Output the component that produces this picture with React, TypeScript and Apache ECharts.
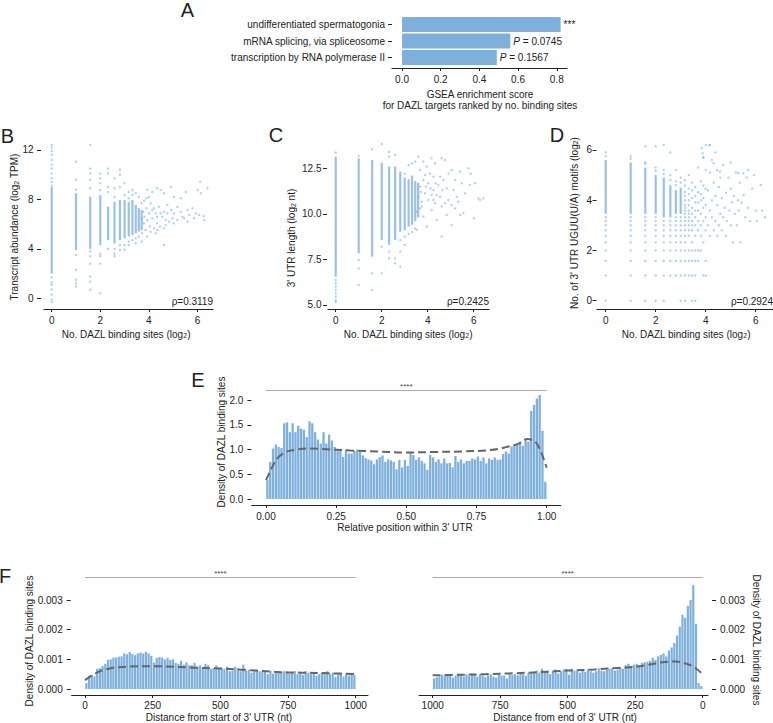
import React, { useEffect, useRef } from "react";
import * as echarts from "echarts";

const FONT = "'Liberation Sans', Arial, Helvetica, sans-serif";
const BAR = "#7eb0dc";
const DOT = "rgba(125,176,224,0.75)";
const DENSE = "rgba(125,176,224,0.78)";
const INK = "#222";

// ---------- Panel A ----------
const A_TERMS = ["undifferentiated spermatogonia", "mRNA splicing, via spliceosome", "transcription by RNA polymerase II"];
const A_SCORES = [0.82, 0.56, 0.49];
const A_NOTES = ["***", "P = 0.0745", "P = 0.1567"];
const A_TICKS = [0, 0.2, 0.4, 0.6, 0.8];

// ---------- Scatter panels (B, C, D) ----------
const SC_XTICKS = [0, 2, 4, 6];
const B_YTICKS = [0, 4, 8, 12];
const C_YTICKS = [5, 7.5, 10, 12.5];
const D_YTICKS = [0, 2, 4, 6];
const RHO = ["0.3119", "0.2425", "0.2924"];

// dense runs of points: [x, low, high]
const B_DENSE = [[0, 2.0, 9.0], [1, 3.9, 8.5], [1.585, 4.0, 8.2], [2, 4.3, 8.35], [2.322, 4.7, 7.4], [2.585, 4.45, 7.8], [2.807, 4.7, 7.95], [3, 4.85, 7.95], [3.17, 5.0, 7.8], [3.322, 5.1, 7.95], [3.459, 5.25, 7.55], [3.585, 5.4, 7.3], [3.7, 5.5, 7.15]];
const B_COLS: [number, number[]][] = [
  [0, [12.4, 12.2, 11.9, 11.6, 11.2, 10.8, 10.5, 10.1, 9.7, 9.4, 9.1, 1.7, 1.3, 1.1, 0.7, 0.3, -0.1, -0.3]],
  [1, [11.05, 9.6, 8.8, 3.5, 2.3, 1.5, 1.2, 0.95]],
  [1.585, [12.4, 10.5, 10.1, 9.6, 8.9, 3.8, 3.4, 2.8, 1.75, 1.35, 0.7]],
  [2, [10.1, 9.7, 9.3, 8.75, 3.6, 3.4, 2.8, 0.4]],
  [2.322, [10.5, 10.1, 9.0, 8.6, 4.0]],
  [2.585, [9.7, 8.9, 8.2, 4.0, 3.6, 3.4]],
  [2.807, [10.4, 10.0, 9.0, 4.3, 3.9]],
  [3, [9.3, 8.35, 4.3, 3.95]],
  [3.17, [8.6, 8.1, 4.6, 4.3]],
  [3.322, [8.76, 8.35, 4.7]],
  [3.459, [8.5, 4.85, 4.45]],
  [3.585, [8.2, 5.0]],
  [3.7, [7.7, 4.6]],
];
const B_CLOUD = [[3.93, 8.76], [4.0, 8.2], [4.14, 8.6], [4.34, 8.9], [4.48, 8.76], [4.62, 8.5], [4.9, 9.0], [5.03, 8.2], [5.31, 8.1], [5.52, 8.6], [6.0, 8.76], [6.11, 9.43], [6.14, 8.5], [6.41, 8.9], [6.25, 6.65], [5.93, 6.87], [5.79, 7.28], [5.59, 7.14], [5.45, 6.47], [5.31, 7.0], [5.17, 7.4], [5.03, 6.87], [4.92, 7.14], [4.76, 7.55], [4.69, 6.33], [4.62, 7.0], [4.55, 6.6], [4.41, 7.41], [4.34, 6.06], [4.28, 6.87], [4.21, 7.28], [4.14, 6.47], [4.07, 7.68], [4.04, 5.8], [4.0, 6.87], [3.93, 6.33], [3.9, 7.28], [3.86, 5.53], [3.82, 6.6], [3.79, 6.06], [3.77, 7.0], [3.72, 5.26], [3.72, 6.47], [4.07, 5.39], [4.21, 5.66], [4.34, 5.53], [4.46, 5.8], [4.62, 5.66], [4.69, 5.93], [4.83, 6.2], [4.28, 5.26], [4.62, 4.3], [3.93, 5.0], [4.14, 7.14], [4.34, 6.6], [4.48, 6.87], [4.76, 6.87], [4.97, 6.47], [5.17, 6.33], [5.38, 6.6], [5.66, 6.74], [5.86, 6.47], [6.28, 6.33], [6.07, 6.74], [5.59, 6.2], [5.03, 6.06], [3.81, 7.9], [3.9, 8.1]];

const C_DENSE = [[0, 6.55, 13.14], [1, 7.84, 13.05], [1.585, 7.65, 12.96], [2, 8.57, 12.8], [2.322, 8.3, 12.6], [2.585, 8.57, 12.6], [2.807, 9.02, 12.32], [3, 9.1, 12.0], [3.17, 9.3, 11.9], [3.322, 9.4, 12.1], [3.459, 9.6, 11.8], [3.585, 9.8, 11.7]];
const C_COLS: [number, number[]][] = [
  [0, [13.36, 6.37, 6.19, 6.0, 5.82, 5.64, 5.46, 5.27, 5.18]],
  [1, [13.18, 7.47, 7.0, 6.1]],
  [1.585, [13.54, 6.74, 5.82]],
  [2, [13.83, 8.2, 6.74]],
  [2.322, [13.4, 13.14, 7.93, 7.56]],
  [2.585, [13.23, 7.56, 7.29]],
  [2.807, [8.57, 7.93, 7.1]],
  [3, [12.2, 8.75, 8.3]],
  [3.17, [12.68, 8.9]],
  [3.322, [12.78, 9.0]],
  [3.459, [12.87, 9.2]],
];
const C_CLOUD = [[3.59, 13.14], [3.81, 12.87], [3.96, 12.6], [4.17, 13.05], [4.32, 12.78], [4.61, 13.05], [4.75, 12.96], [5.04, 12.4], [5.41, 12.32], [5.77, 12.5], [5.87, 12.2], [3.81, 11.86], [3.67, 11.5], [4.03, 11.68], [4.25, 11.31], [4.46, 11.58], [4.54, 10.94], [4.68, 11.86], [4.83, 11.4], [4.9, 10.76], [5.12, 11.31], [5.26, 10.94], [5.48, 11.68], [5.62, 11.13], [5.84, 11.58], [6.06, 11.68], [6.2, 10.85], [6.42, 10.85], [6.28, 10.76], [6.01, 9.76], [5.04, 9.39], [5.41, 9.94], [5.55, 10.03], [4.61, 8.75], [4.83, 9.94], [4.39, 9.66], [4.17, 10.21], [3.96, 9.3], [3.81, 9.85], [3.67, 10.3], [3.52, 10.12], [3.52, 9.12], [3.59, 10.94], [3.74, 10.67], [3.88, 11.13], [4.03, 10.76], [4.17, 11.04], [4.32, 10.58], [4.39, 11.04], [4.61, 10.4], [4.75, 10.58], [5.04, 10.49], [5.19, 10.3], [5.33, 10.67], [4.25, 12.04], [4.54, 12.04], [4.1, 12.22], [4.9, 12.22], [5.19, 11.86], [3.67, 12.41], [3.88, 12.13], [3.93, 11.5], [4.12, 11.4], [4.35, 11.68], [4.64, 11.31], [4.25, 10.76], [3.7, 11.2], [3.75, 10.4]];

const D_DENSE = [[0, 3.459, 5.6], [1, 3.459, 5.5], [1.585, 3.459, 5.3], [2, 3.459, 5.0], [2.322, 3.322, 4.9], [2.585, 3.322, 4.6], [2.807, 3.459, 4.4], [3, 3.459, 4.5]];
const D_COLS: [number, number[]][] = [
  [0, [0, 1, 1.585, 2, 2.322, 2.585, 2.807, 3, 3.17, 3.322, 5.75, 5.91]],
  [1, [0, 1, 1.585, 2, 2.322, 2.585, 2.807, 3, 3.17, 3.322, 5.65, 5.75]],
  [1.585, [0, 1, 1.585, 2, 2.322, 2.585, 2.807, 3, 3.17, 3.322, 5.45, 5.51, 6.15]],
  [2, [0, 1, 1.585, 2, 2.322, 2.585, 2.807, 3, 3.17, 3.322, 5.17, 5.3, 6.15]],
  [2.322, [0, 1, 1.585, 2, 2.322, 2.585, 2.807, 3, 3.17, 5.04, 5.2, 6.2]],
  [2.585, [1, 1.585, 2, 2.322, 2.585, 2.807, 3, 3.17, 4.8, 5.0, 5.9]],
  [2.807, [1, 1.585, 2, 2.322, 2.585, 2.807, 3, 3.17, 3.322, 4.6, 4.75, 5.2]],
  [3, [0, 1, 1.585, 2, 2.322, 2.585, 2.807, 3, 3.17, 3.322, 4.7, 4.9]],
  [3.17, [0, 1, 1.585, 2, 2.322, 2.585, 2.807, 3, 3.17, 3.322, 3.459, 3.585, 3.7, 3.807, 4, 4.17, 4.32, 4.58, 4.8]],
  [3.322, [1, 1.585, 2, 2.585, 2.807, 3, 3.17, 3.322, 3.459, 3.585, 3.807, 4, 4.248, 4.46, 5]],
  [3.459, [0, 1, 1.585, 2, 2.322, 2.807, 3, 3.17, 3.459, 3.7, 4.087, 4.39, 4.7]],
  [3.585, [0, 1, 1.585, 2, 2.585, 3, 3.322, 3.585, 3.907, 4.17, 4.52]],
  [3.7, [1.585, 2, 2.807, 3.17, 3.585, 3.907, 4.32, 5.3]],
  [3.807, [2, 2.585, 3, 3.459, 4, 4.248, 4.75]],
  [3.907, [1, 2.322, 3.17, 3.7, 4.087, 4.58, 5.7]],
  [4, [1, 1.585, 2.807, 3.322, 3.807, 4.46, 5.2, 6.2]],
];
const D_CLOUD = [[3.84, 6.07], [3.88, 5.87], [4.15, 6.2], [4.087, 3.0], [4.087, 4.39], [4.17, 2.585], [4.17, 3.585], [4.17, 5.1], [4.248, 3.322], [4.248, 4.0], [4.248, 5.6], [4.322, 2.807], [4.322, 4.7], [4.392, 3.17], [4.392, 4.17], [4.459, 2.585], [4.459, 3.807], [4.459, 5.2], [4.524, 3.0], [4.524, 4.52], [4.585, 3.459], [4.585, 4.9], [4.644, 2.807], [4.644, 4.087], [4.7, 3.322], [4.7, 5.4], [4.755, 3.7], [4.807, 2.585], [4.807, 4.3], [4.858, 3.17], [4.907, 4.9], [4.954, 3.585], [5.0, 3.0], [5.0, 4.46], [5.044, 3.907], [5.087, 2.322], [5.129, 4.17], [5.17, 3.459], [5.21, 5.1], [5.248, 3.0], [5.285, 4.0], [5.32, 3.585], [5.36, 4.7], [5.39, 2.322], [5.43, 3.907], [5.52, 4.2], [5.58, 3.322], [5.64, 4.9], [5.7, 3.7], [5.78, 3.17], [5.86, 4.46], [5.93, 5.0], [6.0, 3.585], [6.04, 3.17], [6.2, 4.6], [6.25, 3.585], [6.37, 3.322], [5.7, 5.2], [5.0, 5.5], [4.39, 5.9], [4.17, 6.2], [3.907, 5.7], [5.31, 5.07], [5.51, 5.07], [4.57, 5.14], [4.31, 5.47]];

// ---------- Panel E ----------
const E_XTICKS = [0, 0.25, 0.5, 0.75, 1];
const E_YTICKS = [0, 0.5, 1, 1.5, 2];
const E_BIN = 0.01;
const E_BARS = [
  0.38, 0.75, 1.02, 1.1, 1.05, 1.03, 1.53, 1.55, 1.35, 1.53,
  1.35, 1.48, 1.42, 1.4, 1.25, 1.57, 1.53, 1.35, 1.2, 1.12,
  1.35, 1.12, 1.3, 1.18, 1.05, 0.98, 1.0, 0.85, 1.0, 0.92,
  0.92, 0.97, 1.0, 0.97, 0.88, 0.83, 0.8, 0.78, 0.7, 0.8,
  0.85, 0.88, 0.75, 0.8, 0.78, 0.75, 0.6, 0.79, 0.64, 0.79,
  0.67, 0.94, 0.89, 0.79, 0.84, 0.77, 0.72, 0.59, 0.89, 0.84,
  0.75, 0.8, 0.72, 0.82, 0.72, 0.73, 0.64, 0.87, 0.75, 0.8,
  0.72, 0.77, 0.77, 0.82, 0.8, 0.86, 0.77, 0.84, 0.72, 0.82,
  0.79, 0.84, 0.79, 0.8, 0.91, 0.96, 0.92, 1.06, 1.09, 1.12,
  1.16, 1.07, 1.19, 1.16, 1.78, 1.9, 2.03, 2.1, 1.38, 0.35,
];
const E_KDE = [[0, 0.38], [0.02, 0.62], [0.04, 0.82], [0.07, 0.95], [0.1, 0.99], [0.15, 1.02], [0.2, 1.01], [0.3, 0.98], [0.4, 0.96], [0.5, 0.94], [0.6, 0.95], [0.7, 0.96], [0.8, 0.99], [0.85, 1.04], [0.9, 1.12], [0.93, 1.21], [0.96, 1.15], [0.98, 0.95], [1.0, 0.63]];
const E_SIG = { from: 0, to: 1, y: 2.2, text: "****" };

// ---------- Panel F ----------
const F_XTICKS = [0, 250, 500, 750, 1000];
const F_YTICKS = [0, 0.001, 0.002, 0.003];
const F_BIN = 10;
const FL_BARS = [
  0.0002, 0.00045, 0.00048, 0.00043, 0.00068, 0.0007, 0.00077, 0.00085, 0.00098, 0.001,
  0.00106, 0.00106, 0.00109, 0.0011, 0.0012, 0.00117, 0.00125, 0.00118, 0.00114, 0.0012,
  0.00123, 0.0012, 0.00125, 0.0012, 0.00112, 0.00089, 0.00105, 0.00108, 0.00106, 0.001,
  0.00105, 0.00098, 0.001, 0.00088, 0.00085, 0.00095, 0.00082, 0.0009, 0.0008, 0.0008,
  0.00088, 0.00075, 0.0008, 0.0007, 0.00085, 0.0008, 0.00068, 0.0007, 0.0008, 0.0007,
  0.0007, 0.00068, 0.00075, 0.0006, 0.00062, 0.00075, 0.0007, 0.0006, 0.00082, 0.00062,
  0.00065, 0.00055, 0.0006, 0.00065, 0.0006, 0.00058, 0.0006, 0.0005, 0.00062, 0.00052,
  0.00058, 0.00055, 0.00058, 0.0006, 0.00058, 0.00052, 0.00055, 0.0006, 0.0005, 0.00055,
  0.00048, 0.0006, 0.00055, 0.0005, 0.00055, 0.00045, 0.0005, 0.00055, 0.0005, 0.0006,
  0.0005, 0.00055, 0.0004, 0.0005, 0.00055, 0.00042, 0.0005, 0.00045, 0.0005, 0.00048,
];
// distance from end, bins ordered from 1000 nt down to 0 nt
const FR_BARS = [
  0.00036, 0.0004, 0.00042, 0.00048, 0.00046, 0.00045, 0.0005, 0.00038, 0.00046, 0.00048,
  0.00047, 0.00042, 0.0005, 0.00045, 0.00052, 0.00048, 0.00042, 0.0005, 0.00046, 0.0004,
  0.00046, 0.0005, 0.00042, 0.00038, 0.00048, 0.00046, 0.00045, 0.00035, 0.0005, 0.00048,
  0.0005, 0.00046, 0.00052, 0.0005, 0.00044, 0.00055, 0.00052, 0.00056, 0.00062, 0.00055,
  0.00068, 0.00058, 0.00062, 0.0005, 0.0006, 0.00066, 0.00052, 0.0006, 0.00066, 0.00068,
  0.00048, 0.00068, 0.00062, 0.0006, 0.00055, 0.00065, 0.00058, 0.00066, 0.0006, 0.00055,
  0.0006, 0.0007, 0.00062, 0.0006, 0.00065, 0.00068, 0.0007, 0.00062, 0.00066, 0.00072,
  0.00068, 0.0008, 0.00085, 0.00078, 0.00082, 0.00085, 0.0008, 0.00088, 0.0009, 0.00092,
  0.00095, 0.00105, 0.00098, 0.0011, 0.00115, 0.0012, 0.0011, 0.0013, 0.0014, 0.00155,
  0.0018, 0.0021, 0.0025, 0.0024, 0.0028, 0.003, 0.0035, 0.0022, 0.0002, 0.0001,
];
const FL_KDE = [[0, 0.0003], [50, 0.00058], [100, 0.00071], [150, 0.00075], [200, 0.00077], [250, 0.00077], [300, 0.00076], [400, 0.00072], [500, 0.00069], [600, 0.00064], [700, 0.00058], [750, 0.00056], [800, 0.00055], [900, 0.00053], [1000, 0.0005]];
const FR_KDE = [[1000, 0.00046], [900, 0.00048], [800, 0.0005], [700, 0.00053], [600, 0.00057], [500, 0.00062], [400, 0.00066], [300, 0.00072], [250, 0.00075], [200, 0.00082], [150, 0.0009], [100, 0.00093], [70, 0.00088], [40, 0.00078], [20, 0.00066], [0, 0.0005]];
const FL_SIG = { from: 0, to: 1000, y: 0.003765, text: "****" };
const FR_SIG = { from: 1000, to: 0, y: 0.003765, text: "****" };

// ---------- helpers ----------
const tickLabel = (fmt: (v: number) => string, ticks: number[], margin: number) => ({
  customValues: ticks,
  formatter: (v: number) => fmt(v),
  fontSize: 10,
  color: INK,
  fontFamily: FONT,
  margin,
});

function xAxis(gridIndex: number, min: number, max: number, ticks: number[], fmt: (v: number) => string, extra: any = {}) {
  return {
    type: "value", gridIndex, min, max,
    axisLine: { show: true, onZero: false, lineStyle: { color: INK, width: 1.2 } },
    axisTick: { show: true, length: 3, customValues: ticks, lineStyle: { color: INK, width: 1 } },
    axisLabel: tickLabel(fmt, ticks, 6),
    splitLine: { show: false },
    ...extra,
  };
}
function yAxis(gridIndex: number, min: number, max: number, ticks: number[], fmt: (v: number) => string, margin: number, offset: number, extra: any = {}) {
  return {
    type: "value", gridIndex, min, max, offset,
    axisLine: { show: false, onZero: false },
    axisTick: { show: true, length: 4, customValues: ticks, lineStyle: { color: INK, width: 1 } },
    axisLabel: tickLabel(fmt, ticks, margin),
    splitLine: { show: false },
    ...extra,
  };
}

const flatten = (cols: [number, number[]][], cloud: number[][]) => {
  const out: number[][] = [];
  cols.forEach(([x, ys]) => ys.forEach((y) => out.push([x, y])));
  cloud.forEach((p) => out.push(p));
  return out;
};

const denseSeries = (idx: number, data: number[][]) => ({
  type: "custom", coordinateSystem: "cartesian2d", xAxisIndex: idx, yAxisIndex: idx,
  encode: { x: 0, y: [1, 2] },
  data,
  renderItem: (params: any, api: any) => {
    const top = api.coord([api.value(0), api.value(2)]);
    const bot = api.coord([api.value(0), api.value(1)]);
    return { type: "rect", shape: { x: top[0] - 1.1, y: top[1], width: 2.2, height: bot[1] - top[1] }, style: { fill: DENSE } };
  },
  silent: true,
});
const dotSeries = (idx: number, data: number[][]) => ({
  type: "scatter", xAxisIndex: idx, yAxisIndex: idx, data, symbolSize: 2.4,
  itemStyle: { color: DOT }, silent: true,
});
const histSeries = (idx: number, data: number[][]) => ({
  type: "custom", coordinateSystem: "cartesian2d", xAxisIndex: idx, yAxisIndex: idx,
  encode: { x: [0, 1], y: 2 },
  data,
  renderItem: (params: any, api: any) => {
    const a = api.coord([api.value(0), api.value(2)]);
    const b = api.coord([api.value(1), 0]);
    const x0 = Math.min(a[0], b[0]);
    const w = Math.abs(b[0] - a[0]);
    return { type: "rect", shape: { x: x0 + 0.25, y: a[1], width: Math.max(w - 0.5, 0.5), height: b[1] - a[1] }, style: { fill: BAR } };
  },
  silent: true,
});
const kdeSeries = (idx: number, data: number[][], sig: { from: number; to: number; y: number; text: string }) => ({
  type: "line", xAxisIndex: idx, yAxisIndex: idx, data, smooth: 0.35, symbol: "none",
  lineStyle: { color: "#666", width: 2, type: [8, 4] },
  silent: true,
  z: 5,
  markLine: {
    silent: true, symbol: ["none", "none"],
    lineStyle: { color: "#aaa", width: 1.2, type: "solid" },
    label: { show: true, position: "insideMiddleTop", formatter: sig.text, fontSize: 8, color: "#444", fontFamily: FONT, distance: 0 },
    data: [[{ coord: [sig.from, sig.y] }, { coord: [sig.to, sig.y] }]],
  },
});

const sub = { s: { fontSize: 7, fontFamily: FONT, fill: INK, verticalAlign: "bottom" } };
const txt = (text: string, x: number, y: number, o: any = {}) => ({
  type: "text", x, y, rotation: o.rot || 0, silent: true,
  style: {
    text, fill: INK, fontSize: o.size || 10, fontFamily: FONT,
    align: o.align || "center", verticalAlign: o.va || "middle",
    textAlign: o.align || "center", textVerticalAlign: o.va || "middle",
    rich: o.rich,
  },
});

export default function App() {
  const ref = useRef<HTMLDivElement>(null);
  useEffect(() => {
    if (!ref.current) return;
    const chart = echarts.init(ref.current, null, { renderer: "svg" });

    const eHist = E_BARS.map((v, i) => [i * E_BIN, (i + 1) * E_BIN, v]);
    const flHist = FL_BARS.map((v, i) => [i * F_BIN, (i + 1) * F_BIN, v]);
    const frHist = FR_BARS.map((v, i) => [1000 - i * F_BIN, 1000 - (i + 1) * F_BIN, v]);

    const f1 = (v: number) => v.toFixed(1);
    const f0 = (v: number) => String(v);
    const f2 = (v: number) => v.toFixed(2);
    const f3 = (v: number) => v.toFixed(3);

    const option: any = {
      animation: false,
      backgroundColor: "#fff",
      textStyle: { fontFamily: FONT },
      grid: [
        { left: 392, top: 16.25, width: 175, height: 49.5 },
        { left: 44, top: 141.3, width: 169, height: 167.7 },
        { left: 328, top: 142.8, width: 161, height: 166.2 },
        { left: 597, top: 139.9, width: 176, height: 169.1 },
        { left: 251.7, top: 385, width: 309, height: 120 },
        { left: 71.7, top: 572, width: 296.3, height: 123 },
        { left: 419, top: 572, width: 289, height: 123 },
      ],
      xAxis: [
        xAxis(0, -0.052, 0.853, A_TICKS, f1, { offset: 2.25 }),
        xAxis(1, -0.317, 6.638, SC_XTICKS, f0),
        xAxis(2, -0.335, 6.665, SC_XTICKS, f0),
        xAxis(3, -0.348, 6.692, SC_XTICKS, f0),
        xAxis(4, -0.051, 1.05, E_XTICKS, f2),
        xAxis(5, -49.1, 1045.4, F_XTICKS, f0, { axisLabel: tickLabel(f0, F_XTICKS, 5.5) }),
        xAxis(6, -19.6, 1050.7, F_XTICKS, f0, { inverse: true, axisLabel: tickLabel(f0, F_XTICKS, 5.5) }),
      ],
      yAxis: [
        {
          type: "category", gridIndex: 0, data: A_TERMS, inverse: true,
          axisLine: { show: false, onZero: false },
          axisTick: { show: true, length: 4, alignWithLabel: true, lineStyle: { color: INK } },
          axisLabel: { fontSize: 10, color: INK, fontFamily: FONT, margin: 7 },
        },
        yAxis(1, -0.866, 12.7, B_YTICKS, f0, 7.5, 3),
        yAxis(2, 4.78, 13.9, C_YTICKS, f1, 5.5, 1),
        yAxis(3, -0.33, 6.4, D_YTICKS, f0, 4.5, 0.5),
        yAxis(4, -0.121, 2.303, E_YTICKS, f1, 8, 0.3),
        yAxis(5, -0.000202, 0.003944, F_YTICKS, f3, 8, 1),
        yAxis(6, -0.000202, 0.003944, F_YTICKS, f3, 8, 4, { position: "right" }),
      ],
      series: [
        {
          type: "bar", xAxisIndex: 0, yAxisIndex: 0, data: A_SCORES, barWidth: 15,
          itemStyle: { color: BAR }, silent: true,
          label: {
            show: true, position: "right", distance: 3, fontSize: 10, color: INK, fontFamily: FONT,
            formatter: (p: any) => {
              const n = A_NOTES[p.dataIndex];
              return n.startsWith("P") ? "{i|P}" + n.slice(1) : n;
            },
            rich: { i: { fontStyle: "italic", fontSize: 10, fontFamily: FONT, color: INK } },
          },
        },
        denseSeries(1, B_DENSE), dotSeries(1, flatten(B_COLS, B_CLOUD)),
        denseSeries(2, C_DENSE), dotSeries(2, flatten(C_COLS, C_CLOUD)),
        denseSeries(3, D_DENSE), dotSeries(3, flatten(D_COLS, D_CLOUD)),
        histSeries(4, eHist), kdeSeries(4, E_KDE, E_SIG),
        histSeries(5, flHist), kdeSeries(5, FL_KDE, FL_SIG),
        histSeries(6, frHist), kdeSeries(6, FR_KDE, FR_SIG),
      ],
      graphic: [
        txt("A", 187.5, 10, { size: 20 }),
        txt("B", 7.5, 136, { size: 20 }),
        txt("C", 276, 135, { size: 20 }),
        txt("D", 557, 135, { size: 20 }),
        txt("E", 198, 380, { size: 20 }),
        txt("F", 5, 576, { size: 20 }),
        txt("GSEA enrichment score", 480, 94),
        txt("for DAZL targets ranked by no. binding sites", 480, 105),
        txt("Transcript abundance (log{s|2} TPM)", 14.5, 227, { rot: Math.PI / 2, rich: sub }),
        txt("No. DAZL binding sites (log{s|2})", 126, 334, { rich: sub }),
        txt("3' UTR length (log{s|2} nt)", 291.5, 238, { rot: Math.PI / 2, rich: sub }),
        txt("No. DAZL binding sites (log{s|2})", 408, 334, { rich: sub }),
        txt("No. of 3' UTR UGUU(U/A) motifs (log{s|2})", 574, 223, { rot: Math.PI / 2, rich: sub }),
        txt("No. DAZL binding sites (log{s|2})", 686, 334, { rich: sub }),
        txt("\u03c1=" + RHO[0], 213, 301, { align: "right" }),
        txt("\u03c1=" + RHO[1], 489, 301, { align: "right" }),
        txt("\u03c1=" + RHO[2], 773, 301, { align: "right" }),
        txt("Density of DAZL binding sites", 221, 442, { rot: Math.PI / 2 }),
        txt("Relative position within 3' UTR", 405, 527),
        txt("Density of DAZL binding sites", 29, 641, { rot: Math.PI / 2 }),
        txt("Distance from start of 3' UTR (nt)", 219, 717),
        txt("Density of DAZL binding sites", 756.5, 640, { rot: -Math.PI / 2 }),
        txt("Distance from end of 3' UTR (nt)", 565, 717),
      ],
    };
    chart.setOption(option);
    return () => chart.dispose();
  }, []);
  return <div ref={ref} style={{ position: "fixed", left: 0, top: 0, width: 773, height: 723, background: "#fff" }} />;
}
